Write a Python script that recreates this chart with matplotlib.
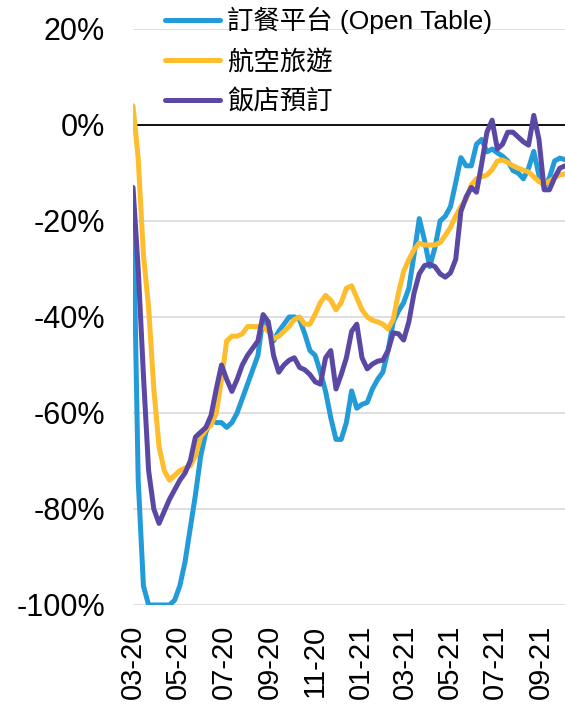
import matplotlib
matplotlib.use("Agg")
import matplotlib.pyplot as plt
import matplotlib.dates as mdates
import numpy as np
import pandas as pd

plt.rcParams['font.family'] = ['Liberation Sans', 'Noto Sans CJK TC', 'DejaVu Sans']

# weekly readings, 2020-03-01 .. 2021-10-03
dates = pd.date_range("2020-03-01", periods=84, freq="7D")

open_table = [
    -15, -74, -96, -100, -100, -100, -100, -100, -99, -96,
    -91, -84, -77, -69, -64, -61.5, -62, -62, -63, -62,
    -60, -57, -54, -51, -48, -40, -42, -45, -43, -41.5,
    -40, -40, -40.5, -43.5, -47, -48, -51.5, -55.5, -61, -65.5,
    -65.5, -62, -55.4, -59, -58.2, -57.8, -55, -53, -51.5, -47,
    -41, -38.8, -37, -34, -27, -19.5, -24, -29.5, -25.6, -20,
    -19, -17, -12, -6.8, -8.5, -8.5, -4, -3, -5.6, -5,
    -5.8, -6.5, -7.5, -9.5, -10, -11.2, -9, -5.5, -10.5, -13,
    -11, -7.5, -6.9, -7.2,
]

airline = [
    4, -7, -27, -38, -55, -67, -72, -74, -73, -72,
    -71.5, -71, -69, -65, -63.5, -62.5, -60, -53, -45, -44,
    -44, -43.5, -42, -42, -42, -42, -43, -44.5, -44, -43,
    -42, -40.5, -40, -41.5, -41.5, -39.4, -37, -35.5, -36.5, -38.5,
    -37, -34, -33.5, -36, -38.5, -40, -40.7, -41, -41.5, -42.5,
    -40.5, -35, -30.5, -28, -26, -24.6, -25, -25, -25, -24.5,
    -23, -21.3, -19, -17, -15.5, -12.5, -11.2, -10.8, -10.4, -9.3,
    -7.5, -7.3, -7.8, -8.5, -9, -9.4, -9.8, -10.8, -11.8, -12.3,
    -11.7, -11, -10.4, -10.2,
]

hotel = [
    -13, -30, -52, -72, -80, -83, -80.5, -78, -76, -74,
    -72.5, -70, -65, -64, -63, -60.5, -55, -50, -53, -55.5,
    -53, -50, -48, -46.5, -45, -39.5, -41, -48, -51.5, -50,
    -49, -48.5, -50.5, -51, -52, -53.5, -54, -48.5, -47, -55,
    -52, -48.5, -43, -41.5, -48.5, -50.8, -49.8, -49.2, -49, -47,
    -43.3, -43.5, -44.8, -41, -35, -31, -29.3, -29, -29.5, -31,
    -31.7, -30.8, -28, -18, -15, -13, -14, -8, -1.5, 1,
    -5, -4, -1.5, -1.5, -2.5, -3.5, -4.2, 2, -3, -13.5,
    -13.5, -11, -9, -8.5,
]

labels = ["訂餐平台 (Open Table)", "航空旅遊", "飯店預訂"]
colors = ["#229BD8", "#FDBD2D", "#5B48A5"]

fig = plt.figure(figsize=(5.65, 7.08), dpi=100)
ax = fig.add_axes([133 / 565, 1 - 605 / 708, 432 / 565, 576 / 708])

for s, lab, c in zip([open_table, airline, hotel], labels, colors):
    ax.plot(dates, np.array(s), color=c, lw=3.6, label=lab, solid_capstyle="round")

ax.set_ylim(-100, 20)
ax.set_yticks(np.arange(-100, 21, 20))
ax.set_yticklabels([f"{v}%" for v in range(-100, 21, 20)])
ax.set_xlim(dates[0], dates[-1])
ax.xaxis.set_major_locator(mdates.MonthLocator(bymonth=[1, 3, 5, 7, 9, 11]))
ax.xaxis.set_major_formatter(mdates.DateFormatter("%m-%y"))

ax.grid(axis="y", color="#D9D9D9", lw=1.2, zorder=0)
ax.set_axisbelow(True)
ax.axhline(0, color="black", lw=1.3, zorder=1.5)
for sp in ax.spines.values():
    sp.set_visible(False)
ax.tick_params(axis="y", length=0, pad=20, labelsize=22)
ax.tick_params(axis="x", length=0, pad=14, labelsize=21, rotation=90)

fig.legend(loc="upper left", bbox_to_anchor=(165 / 565, 1 - 7 / 708),
           frameon=False, fontsize=19, handlelength=2.1, handletextpad=0.25,
           labelspacing=0.57, borderpad=0, borderaxespad=0)

fig.savefig("out.png", dpi=100)
